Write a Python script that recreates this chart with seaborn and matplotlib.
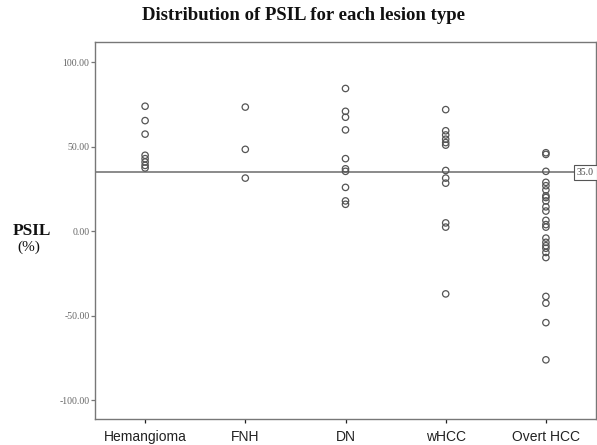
import pandas as pd
import seaborn as sns
import matplotlib.pyplot as plt

# PSIL (%) per lesion type
lesion_types = ["Hemangioma", "FNH", "DN", "wHCC", "Overt HCC"]
hemangioma = [74, 65.5, 57.5, 45, 43, 41, 39, 37.5]
fnh = [73.5, 48.5, 31.5]
dn = [84.5, 71, 67.5, 60, 43, 37, 35.5, 26, 18, 16]
whcc = [72, 59.5, 57, 54.5, 52.5, 51, 36, 31.5, 28.5, 5, 2.5, -37]
overt_hcc = [46.5, 45.5, 35.5, 29, 27, 24.5, 21, 20, 18, 14.5, 12, 6.5, 4, 2.5,
             -4, -6.5, -8.5, -10, -12.5, -15.5, -38.5, -42.5, -54, -76]
cutoff = 35.0
y_ticks = [-100, -50, 0, 50, 100]

groups = [hemangioma, fnh, dn, whcc, overt_hcc]
df = pd.DataFrame({
    "lesion": [name for name, vals in zip(lesion_types, groups) for _ in vals],
    "psil": [v for vals in groups for v in vals],
})

sns.set_style("white")
plt.rcParams["font.family"] = ["Liberation Sans", "DejaVu Sans"]

fig = plt.figure(figsize=(5.97, 4.45), dpi=100)
ax = fig.add_axes([95 / 597, 1 - 419 / 445, 501 / 597, 377 / 445])

sns.stripplot(data=df, x="lesion", y="psil", order=lesion_types, jitter=False,
              color="#555555", facecolors="none", edgecolor="#555555",
              linewidth=0.9, size=4.6, ax=ax)

# cut-off reference line with its label box
ax.axhline(cutoff, color="#777777", lw=1.2, zorder=1)
ax.text(0.962, cutoff, f"{cutoff:.1f}", transform=ax.get_yaxis_transform(),
        ha="left", va="center", fontsize=7, family="Liberation Serif",
        color="#444444", clip_on=False,
        bbox=dict(boxstyle="square,pad=0.3", fc="white", ec="#555555", lw=0.8))

ax.set_xlim(-0.5, 4.5)
ax.set_ylim(-111, 112)
ax.set_yticks(y_ticks)
ax.set_yticklabels([f"{t:.2f}" for t in y_ticks], family="Liberation Serif",
                   fontsize=7, color="#666666")
ax.tick_params(axis="x", labelsize=10, colors="#222222", length=3, width=0.9, pad=5)
ax.tick_params(axis="y", length=3, width=0.9, colors="#777777", labelcolor="#666666", pad=1)
ax.tick_params(axis="both", which="both", direction="out", bottom=True, left=True)
ax.set_xlabel("")
ax.set_ylabel("")
for sp in ax.spines.values():
    sp.set_color("#777777")
    sp.set_linewidth(1.0)

fig.text(303 / 597, 1 - 15 / 445, "Distribution of PSIL for each lesion type",
         ha="center", va="center", fontsize=13.5, fontweight="bold",
         family="Liberation Serif", color="#111111")
fig.text(32 / 597, 1 - 231 / 445, "PSIL", ha="center", va="center",
         fontsize=12.5, fontweight="bold", family="Liberation Serif", color="#111111")
fig.text(29 / 597, 1 - 247 / 445, "(%)", ha="center", va="center",
         fontsize=11, family="Liberation Serif", color="#111111")

fig.savefig("out.png", dpi=100)
